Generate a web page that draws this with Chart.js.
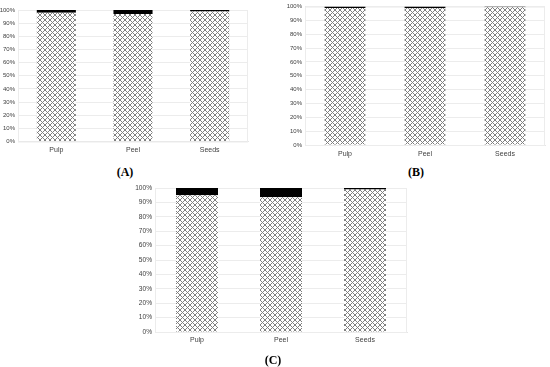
<!DOCTYPE html>
<html>
<head>
<meta charset="utf-8">
<script src="https://cdn.jsdelivr.net/npm/chart.js@4"></script>
<style>
  body { margin: 0; width: 550px; height: 367px; background: #fff; position: relative; overflow: hidden; }
  .panel { position: absolute; }
  .tag { position: absolute; font-family: "Liberation Serif", serif; font-size: 12px; font-weight: bold; color: #000; transform: translateX(-50%); }
</style>
</head>
<body>
<div class="panel" style="left:0;top:0"><canvas id="chartA" width="252" height="160"></canvas></div>
<div class="panel" style="left:280px;top:0"><canvas id="chartB" width="270" height="160"></canvas></div>
<div class="panel" style="left:120px;top:180px"><canvas id="chartC" width="300" height="175"></canvas></div>
<div class="tag" style="left:125px;top:165px">(A)</div>
<div class="tag" style="left:416px;top:165px">(B)</div>
<div class="tag" style="left:273px;top:353px">(C)</div>
<script>
// data (percent of total)
const categories = ["Pulp", "Peel", "Seeds"];
const yTicks = [0, 10, 20, 30, 40, 50, 60, 70, 80, 90, 100];

const hatchA = [97.9, 97, 98.8];
const blackA = [2.1, 3, 1.2];

const hatchB = [99, 98.8, 99.5];
const blackB = [1, 1.2, 0.5];

const hatchC = [95, 93.5, 99];
const blackC = [5, 6.5, 1];

// crosshatch fill, drawn pixel by pixel so it stays crisp
function makeHatch() {
  const n = 5;
  const c = document.createElement("canvas");
  c.width = n;
  c.height = n;
  const g = c.getContext("2d");
  g.fillStyle = "#fff";
  g.fillRect(0, 0, n, n);
  g.fillStyle = "#808080";
  for (let i = 0; i < n; i++) {
    g.fillRect(i, i, 1, 1);
    g.fillRect(i, n - 1 - i, 1, 1);
  }
  return g.createPattern(c, "repeat");
}
const hatch = makeHatch();

// faint frame round the plot area
const frame = {
  id: "frame",
  beforeDatasetsDraw(chart) {
    const { ctx, chartArea: a } = chart;
    ctx.save();
    ctx.strokeStyle = "#ececec";
    ctx.lineWidth = 1;
    ctx.strokeRect(a.left + 0.5, a.top + 0.5, a.right - a.left - 1, a.bottom - a.top);
    ctx.restore();
  },
};

function makeChart(id, hatchData, blackData, opt) {
  return new Chart(document.getElementById(id), {
    type: "bar",
    data: {
      labels: categories,
      datasets: [
        { data: hatchData, backgroundColor: hatch, borderWidth: 0 },
        { data: blackData, backgroundColor: "#000", borderWidth: 0 },
      ],
    },
    options: {
      responsive: false,
      animation: false,
      plugins: { legend: { display: false }, tooltip: { enabled: false } },
      layout: { padding: { top: opt.top, right: opt.right, left: 0, bottom: 0 } },
      datasets: { bar: { categoryPercentage: 1, barPercentage: opt.bar } },
      scales: {
        x: {
          stacked: true,
          grid: { display: false, drawTicks: false },
          border: { display: true, color: "#e6e6e6" },
          ticks: { color: "#404040", padding: opt.xPad, font: { family: "Liberation Sans", size: opt.xFont } },
          afterFit: (s) => { s.height = opt.xH; },
        },
        y: {
          stacked: true,
          min: 0,
          max: 100,
          afterBuildTicks: (s) => { s.ticks = yTicks.map((v) => ({ value: v })); },
          grid: { color: "#ececec", drawTicks: false },
          border: { display: true, color: "#e6e6e6" },
          ticks: {
            color: "#404040",
            padding: 3,
            font: { family: "Liberation Sans", size: opt.yFont },
            callback: (v) => v + "%",
          },
          afterFit: (s) => { s.width = opt.yW; },
        },
      },
    },
    plugins: [frame],
  });
}

makeChart("chartA", hatchA, blackA, { top: 10, right: 4, bar: 0.51, xH: 18.5, xPad: 4, xFont: 7, yFont: 6, yW: 18 });
makeChart("chartB", hatchB, blackB, { top: 6, right: 5, bar: 0.51, xH: 15, xPad: 5, xFont: 7, yFont: 6, yW: 25 });
makeChart("chartC", hatchC, blackC, { top: 8, right: 13, bar: 0.5, xH: 23, xPad: 4, xFont: 7, yFont: 6.6, yW: 35 });
</script>
</body>
</html>
